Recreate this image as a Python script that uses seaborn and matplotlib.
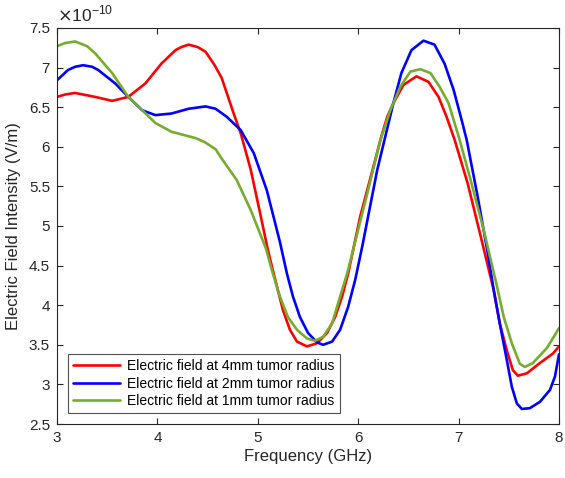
import matplotlib
matplotlib.use("Agg")
import matplotlib.pyplot as plt
import seaborn as sns
import pandas as pd

# Frequency (GHz) and electric field (units of 1e-10 V/m)
freq_4mm = [3.00, 3.08, 3.18, 3.38, 3.55, 3.71, 3.88, 4.04, 4.18, 4.24, 4.31, 4.40, 4.48,
            4.57, 4.64, 4.76, 4.83,
            4.93, 5.03, 5.10, 5.15, 5.20, 5.25, 5.32, 5.39, 5.49, 5.59, 5.69, 5.77, 5.84,
            5.90, 5.95, 6.02, 6.16, 6.23, 6.29, 6.35, 6.45, 6.58, 6.70, 6.80, 6.88, 6.96,
            7.09, 7.22, 7.35, 7.41, 7.48, 7.54, 7.59, 7.68, 7.81, 7.94, 8.00]
field_4mm = [6.63, 6.66, 6.68, 6.63, 6.58, 6.63, 6.80, 7.05, 7.22, 7.26, 7.29, 7.26, 7.20,
             7.03, 6.87, 6.42, 6.17,
             5.71, 5.12, 4.70, 4.44, 4.19, 3.94, 3.69, 3.54, 3.48, 3.52, 3.65, 3.85, 4.11,
             4.40, 4.70, 5.12, 5.79, 6.13, 6.38, 6.55, 6.78, 6.89, 6.82, 6.63, 6.38, 6.09,
             5.54, 4.87, 4.19, 3.77, 3.43, 3.18, 3.11, 3.14, 3.27, 3.39, 3.48]

freq_2mm = [3.00, 3.11, 3.18, 3.26, 3.35, 3.41, 3.58, 3.71, 3.85, 3.98, 4.14, 4.31, 4.48,
            4.58, 4.69, 4.83,
            4.96, 5.09, 5.22, 5.29, 5.35, 5.42, 5.50, 5.59, 5.65, 5.74, 5.82, 5.90, 5.97,
            6.04, 6.19, 6.27, 6.35, 6.43, 6.53, 6.65, 6.76, 6.86, 6.95, 7.03, 7.08, 7.19,
            7.29, 7.35, 7.41, 7.48, 7.53, 7.58, 7.63, 7.71, 7.81, 7.91, 7.96, 8.00]
field_2mm = [6.84, 6.97, 7.01, 7.03, 7.01, 6.97, 6.80, 6.63, 6.46, 6.40, 6.42, 6.48, 6.51,
             6.48, 6.38, 6.21,
             5.92, 5.45, 4.80, 4.40, 4.11, 3.85, 3.65, 3.53, 3.50, 3.54, 3.69, 3.98, 4.32,
             4.74, 5.71, 6.13, 6.55, 6.93, 7.22, 7.34, 7.29, 7.05, 6.72, 6.34, 6.09, 5.37,
             4.66, 4.19, 3.77, 3.31, 2.97, 2.76, 2.69, 2.70, 2.78, 2.93, 3.10, 3.38]

freq_1mm = [3.00, 3.08, 3.18, 3.30, 3.38, 3.55, 3.71, 3.85, 3.98, 4.14, 4.38, 4.47, 4.58,
            4.63, 4.79, 4.93, 5.08,
            5.15, 5.22, 5.30, 5.39, 5.49, 5.57, 5.65, 5.74, 5.82, 5.89, 5.95, 6.09, 6.22,
            6.32, 6.42, 6.52, 6.62, 6.72, 6.81, 6.90, 6.96, 7.01, 7.12, 7.25, 7.38, 7.45,
            7.53, 7.61, 7.66, 7.74, 7.88, 8.00]
field_1mm = [7.27, 7.31, 7.33, 7.27, 7.18, 6.93, 6.63, 6.46, 6.30, 6.19, 6.11, 6.06, 5.97,
             5.87, 5.58, 5.20, 4.72,
             4.40, 4.11, 3.85, 3.69, 3.58, 3.55, 3.60, 3.77, 4.11, 4.40, 4.70, 5.41, 6.08,
             6.46, 6.76, 6.95, 6.98, 6.93, 6.76, 6.55, 6.30, 6.09, 5.58, 4.95, 4.25, 3.85,
             3.52, 3.26, 3.22, 3.27, 3.46, 3.71]

labels = ["Electric field at 4mm tumor radius",
          "Electric field at 2mm tumor radius",
          "Electric field at 1mm tumor radius"]
colors = ["#ff0000", "#0000ff", "#77ac30"]

x_ticks = [3, 4, 5, 6, 7, 8]
y_ticks = [2.5, 3, 3.5, 4, 4.5, 5, 5.5, 6, 6.5, 7, 7.5]

sns.set_theme(style="white")
plt.rcParams['font.family'] = ['Liberation Sans', 'DejaVu Sans']

fig = plt.figure(figsize=(5.65, 4.78), dpi=100)
ax = fig.add_axes([57/565, 1 - 424/478, (559 - 57)/565, (424 - 28)/478])

series = [(freq_4mm, field_4mm), (freq_2mm, field_2mm), (freq_1mm, field_1mm)]
for (fx, fy), lab, col in zip(series, labels, colors):
    df = pd.DataFrame({"f": fx, "e": fy})
    sns.lineplot(data=df, x="f", y="e", ax=ax, color=col, linewidth=1.9, label=lab)
for ln in ax.get_lines():
    ln.set_solid_joinstyle("round")
    ln.set_solid_capstyle("round")

ax.set_xlim(3, 8)
ax.set_ylim(2.5, 7.5)
ax.set_xticks(x_ticks)
ax.set_yticks(y_ticks)
ax.set_xticklabels([str(v) for v in x_ticks])
ax.set_yticklabels([("%g" % v) for v in y_ticks])

dark = "#262626"
for sp in ax.spines.values():
    sp.set_visible(True)
    sp.set_color(dark)
    sp.set_linewidth(0.8)
ax.tick_params(direction="in", length=4, width=0.8, colors=dark, labelsize=11,
               top=True, right=True, bottom=True, left=True, pad=5)
ax.set_xlabel("Frequency (GHz)", fontsize=12, color=dark, labelpad=3)
ax.set_ylabel("Electric Field Intensity (V/m)", fontsize=12, color=dark, labelpad=6)
ax.text(0.0, 1.008, r"$\times$10$^{\mathregular{-10}}$", transform=ax.transAxes,
        fontsize=12.5, color=dark, ha="left", va="bottom")

leg = ax.legend(loc="lower left", fontsize=10, frameon=True, fancybox=False,
                handlelength=3.4, handletextpad=0.5, borderpad=0.35,
                labelspacing=0.25, borderaxespad=0.8)
leg.get_frame().set_edgecolor(dark)
leg.get_frame().set_linewidth(0.8)
for t in leg.get_texts():
    t.set_color("#000000")

fig.savefig("out.png", dpi=100, facecolor="white")
